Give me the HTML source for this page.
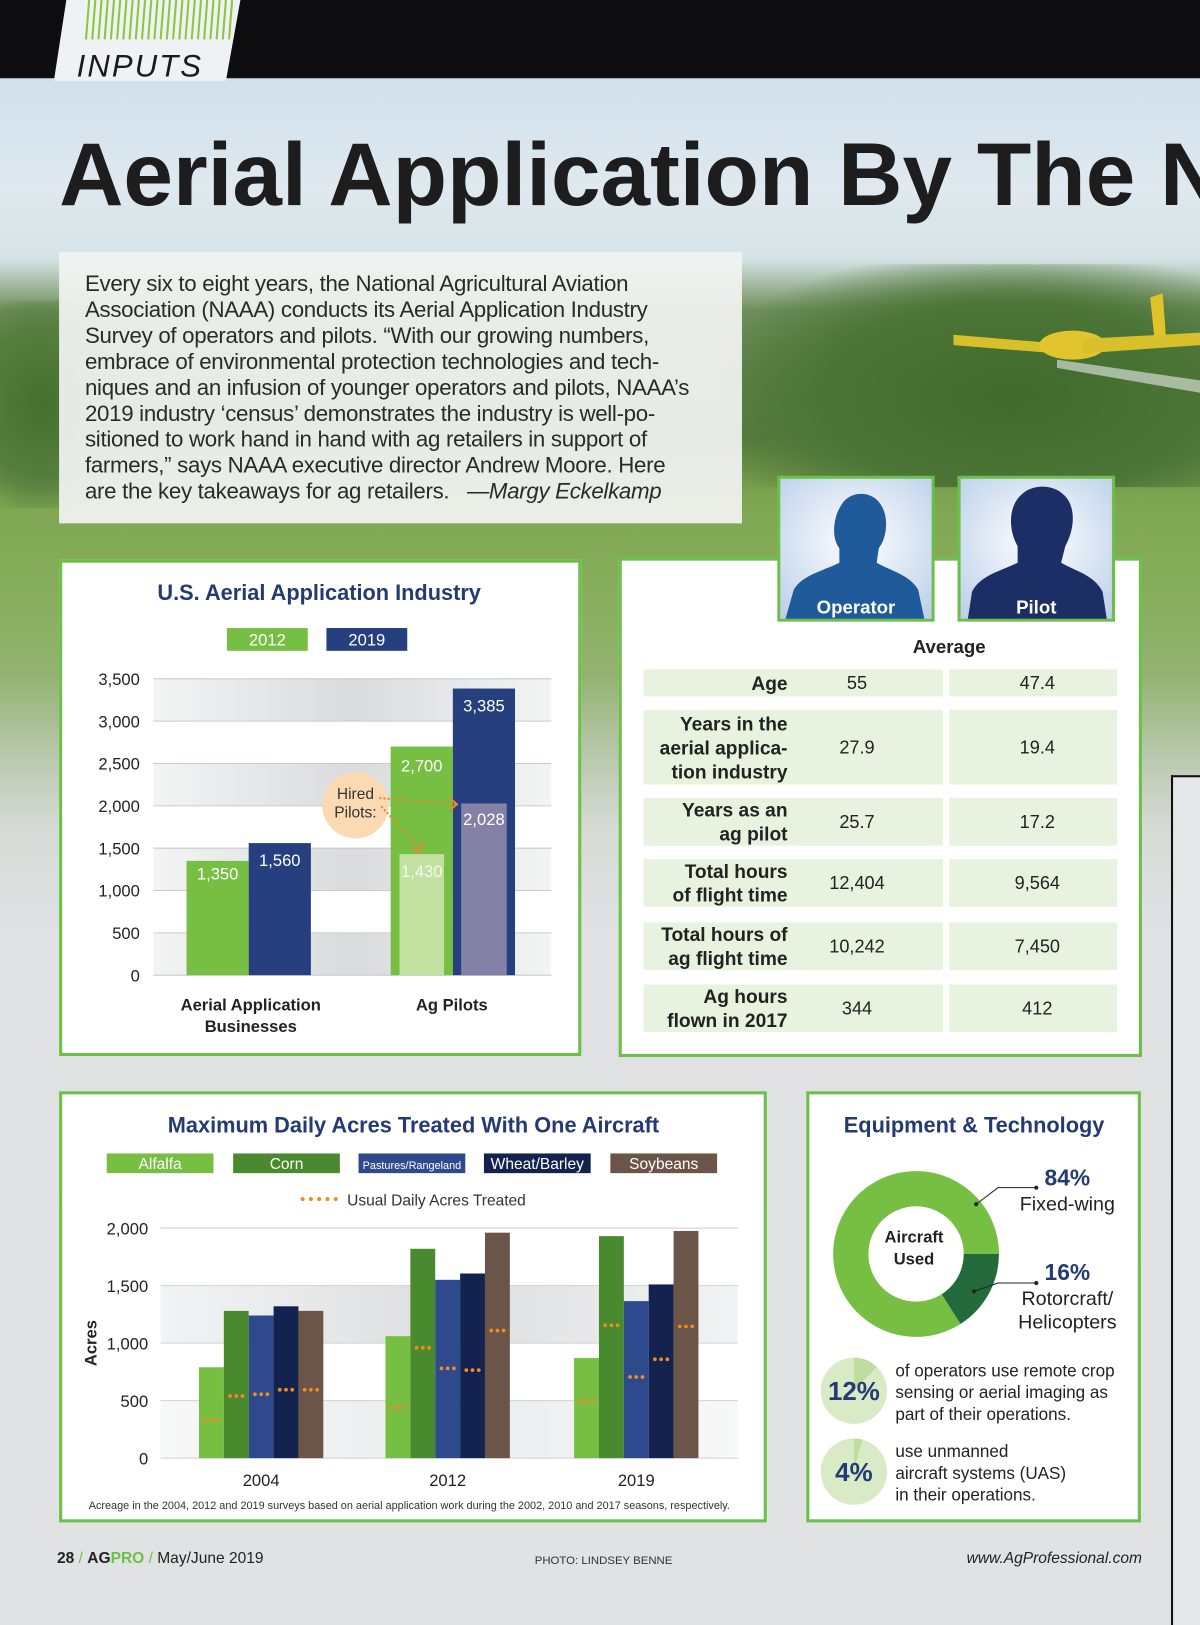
<!DOCTYPE html>
<html><head><meta charset="utf-8">
<style>
html,body{margin:0;padding:0;}
body{width:1200px;height:1625px;overflow:hidden;background:#e0e2e4;font-family:"Liberation Sans",sans-serif;}
#wrap{position:absolute;left:0;top:0;width:1158px;height:1568px;transform-origin:0 0;transform:scale(1.03627,1.03635);overflow:hidden;
background:linear-gradient(180deg,#0e0e10 0,#0e0e10 75px,#cfe0ec 76px,#dfe9ef 180px,#d6e3e6 250px,#6f8f5a 300px,#587d3e 420px,#7ea550 480px,#86ad5a 560px,#93b270 650px,#b9c8ad 730px,#d6dbd6 800px,#dfe1e3 900px,#e0e2e4 100%);}
.abs{position:absolute;}
.box{position:absolute;background:#fff;border:3px solid #6cc04a;box-sizing:border-box;}
.box svg{position:absolute;left:-3px;top:-3px;}
</style></head><body>
<div id="wrap">
  <div class="abs" style="left:700px;top:255px;width:460px;height:215px;background:radial-gradient(ellipse at 60% 60%,#3f6a2c 0,#4d7538 50%,rgba(90,125,70,0) 80%);"></div>
  <div class="abs" style="left:-40px;top:290px;width:160px;height:200px;background:radial-gradient(ellipse at 50% 50%,#46702f 0,#557d3e 50%,rgba(90,125,70,0) 80%);"></div>
  <svg class="abs" style="left:920px;top:275px" width="238" height="110">
    <path d="M0 48 L95 56 L100 66 L0 58 Z" fill="#d8c02a"/>
    <ellipse cx="115" cy="58" rx="32" ry="14" fill="#e2c52c"/>
    <path d="M125 52 L238 46 L238 58 L125 66 Z" fill="#d8c02a"/>
    <path d="M190 12 L202 8 L205 48 L194 52 Z" fill="#e0c22a"/>
    <path d="M100 72 L238 92 L238 104 L100 80 Z" fill="#e8ecea" opacity="0.6"/>
  </svg>
  <svg class="abs" style="left:50px;top:0" width="190" height="78">
    <polygon points="14,0 182,0 168,78 2,78" fill="#eef2f4"/>
    <g stroke="#8cc63f" stroke-width="2">
      <line x1="36" y1="0" x2="33" y2="38"/><line x1="42" y1="0" x2="39" y2="38"/><line x1="48" y1="0" x2="45" y2="38"/><line x1="54" y1="0" x2="51" y2="38"/><line x1="60" y1="0" x2="57" y2="38"/><line x1="66" y1="0" x2="63" y2="38"/><line x1="72" y1="0" x2="69" y2="38"/><line x1="78" y1="0" x2="75" y2="38"/><line x1="84" y1="0" x2="81" y2="38"/><line x1="90" y1="0" x2="87" y2="38"/><line x1="96" y1="0" x2="93" y2="38"/><line x1="102" y1="0" x2="99" y2="38"/><line x1="108" y1="0" x2="105" y2="38"/><line x1="114" y1="0" x2="111" y2="38"/><line x1="120" y1="0" x2="117" y2="38"/><line x1="126" y1="0" x2="123" y2="38"/><line x1="132" y1="0" x2="129" y2="38"/><line x1="138" y1="0" x2="135" y2="38"/><line x1="144" y1="0" x2="141" y2="38"/><line x1="150" y1="0" x2="147" y2="38"/><line x1="156" y1="0" x2="153" y2="38"/><line x1="162" y1="0" x2="159" y2="38"/><line x1="168" y1="0" x2="165" y2="38"/><line x1="174" y1="0" x2="171" y2="38"/>
    </g>
    <text x="24" y="74" font-family="Liberation Sans" font-style="italic" font-size="30" fill="#1a1a1a" letter-spacing="2">INPUTS</text>
  </svg>
  <div class="abs" style="left:57px;top:120px;font-weight:bold;font-size:86px;color:#1d1d1d;white-space:nowrap;letter-spacing:0px;">Aerial Application By The N</div>

  <div class="abs" style="left:57px;top:243px;width:659px;height:262px;background:rgba(242,243,242,0.93);"></div>
  <div class="abs" style="left:82px;top:262px;font-size:21.5px;line-height:25px;color:#2a2a2a;white-space:pre;letter-spacing:-0.3px;">Every six to eight years, the National Agricultural Aviation
Association (NAAA) conducts its Aerial Application Industry
Survey of operators and pilots. “With our growing numbers,
embrace of environmental protection technologies and tech-
niques and an infusion of younger operators and pilots, NAAA’s
2019 industry ‘census’ demonstrates the industry is well-po-
sitioned to work hand in hand with ag retailers in support of
farmers,” says NAAA executive director Andrew Moore. Here
are the key takeaways for ag retailers.   <i>—Margy Eckelkamp</i></div>

  <div class="abs" style="left:1130px;top:748px;width:40px;height:830px;background:#e6e7e8;border-left:2px solid #111;border-top:2px solid #111;"></div>

  <div class="box" style="left:57px;top:540px;width:504px;height:479px;">
    <svg id="c1" width="504" height="479" viewBox="57 540 504 479"></svg>
  </div>

  <div class="box" style="left:597px;top:538px;width:505px;height:482px;"></div>
  <svg class="abs" style="left:750px;top:459px" width="152" height="141">
    <defs><radialGradient id="bgA" cx="50%" cy="45%" r="70%"><stop offset="0" stop-color="#ffffff"/><stop offset="1" stop-color="#bcd0ea"/></radialGradient></defs>
    <rect x="1.5" y="1.5" width="149" height="138" fill="url(#bgA)" stroke="#6cc04a" stroke-width="3"/>
    <path d="M60 70 C52 60 54 40 62 28 C70 14 92 14 100 28 C108 40 106 60 98 70 L96 84 C110 92 128 96 136 110 L142 138 L8 138 L16 110 C24 96 44 92 60 84 Z" fill="#1f5a9a"/>
    <text x="76" y="133" text-anchor="middle" font-weight="bold" font-size="18" fill="#fff">Operator</text>
  </svg>
  <svg class="abs" style="left:924px;top:459px" width="152" height="141">
    <rect x="1.5" y="1.5" width="149" height="138" fill="url(#bgA)" stroke="#6cc04a" stroke-width="3"/>
    <path d="M58 68 C48 50 50 28 62 18 C72 8 92 8 102 18 C114 28 114 50 104 68 L100 84 C114 92 132 96 140 112 L144 138 L10 138 L14 112 C22 96 42 92 58 84 Z" fill="#1b2f66"/>
    <text x="76" y="133" text-anchor="middle" font-weight="bold" font-size="18" fill="#fff">Pilot</text>
  </svg>
  <div class="abs" style="left:860px;top:614px;width:112px;text-align:center;font-weight:bold;font-size:18px;color:#222;">Average</div>
  <div id="tbl"></div>

  <div class="box" style="left:57px;top:1053px;width:683px;height:416px;">
    <svg id="c3" width="683" height="416" viewBox="57 1053 683 416"></svg>
  </div>

  <div class="box" style="left:778px;top:1053px;width:323px;height:416px;">
    <svg width="323" height="416" viewBox="778 1053 323 416">
      <text x="940" y="1093" text-anchor="middle" font-weight="bold" font-size="21" fill="#243a73">Equipment &amp; Technology</text>
      <g id="donut"></g>
      <circle cx="884" cy="1210" r="46" fill="#fff"/>
      <text x="882" y="1199" text-anchor="middle" font-weight="bold" font-size="16" fill="#222">Aircraft</text>
      <text x="882" y="1220" text-anchor="middle" font-weight="bold" font-size="16" fill="#222">Used</text>
      <polyline points="942,1162 963,1146 1000,1146" fill="none" stroke="#222" stroke-width="1"/><circle cx="942" cy="1162" r="2" fill="#222"/><circle cx="1000" cy="1146" r="2" fill="#222"/>
      <polyline points="940,1246 963,1238 1000,1238" fill="none" stroke="#222" stroke-width="1"/><circle cx="940" cy="1246" r="2" fill="#222"/><circle cx="1000" cy="1238" r="2" fill="#222"/>
      <text x="1030" y="1144" text-anchor="middle" font-weight="bold" font-size="22" fill="#243a73">84%</text>
      <text x="1030" y="1168" text-anchor="middle" font-size="19" fill="#222">Fixed-wing</text>
      <text x="1030" y="1235" text-anchor="middle" font-weight="bold" font-size="22" fill="#243a73">16%</text>
      <text x="1030" y="1259" text-anchor="middle" font-size="19" fill="#222">Rotorcraft/</text>
      <text x="1030" y="1282" text-anchor="middle" font-size="19" fill="#222">Helicopters</text>
      <circle cx="824" cy="1342" r="32" fill="#d8ebc6"/>
      <path d="M824 1342 L824 1310 A32 32 0 0 1 846 1319 Z" fill="#bfdd9f"/>
      <text x="824" y="1351" text-anchor="middle" font-weight="bold" font-size="25" fill="#243a73">12%</text>
      <circle cx="824" cy="1420" r="32" fill="#d8ebc6"/>
      <path d="M824 1420 L824 1388 A32 32 0 0 1 832 1389 Z" fill="#bfdd9f"/>
      <text x="824" y="1429" text-anchor="middle" font-weight="bold" font-size="25" fill="#243a73">4%</text>
      <g font-size="16.5" fill="#222">
        <text x="864" y="1328">of operators use remote crop</text>
        <text x="864" y="1349">sensing or aerial imaging as</text>
        <text x="864" y="1370">part of their operations.</text>
        <text x="864" y="1406">use unmanned</text>
        <text x="864" y="1427">aircraft systems (UAS)</text>
        <text x="864" y="1448">in their operations.</text>
      </g>
    </svg>
  </div>

  <div class="abs" style="left:55px;top:1495px;font-size:15px;color:#222;"><b>28</b> <span style="color:#6cc04a">/</span> <b>AG</b><b style="color:#6cc04a">PRO</b> <span style="color:#6cc04a">/</span> May/June 2019</div>
  <div class="abs" style="left:516px;top:1500px;font-size:11px;color:#333;">PHOTO: LINDSEY BENNE</div>
  <div class="abs" style="left:880px;top:1495px;width:222px;text-align:right;font-size:15px;font-style:italic;color:#222;">www.AgProfessional.com</div>
</div>

<script>
const c1Categories = ["Aerial Application|Businesses", "Ag Pilots"];
const c1Series2012 = [1350, 2700];
const c1Series2019 = [1560, 3385];
const c1Hired2012 = [null, 1430];
const c1Hired2019 = [null, 2028];
const c1Ticks = [0, 500, 1000, 1500, 2000, 2500, 3000, 3500];
const c1TickLabels = ["0", "500", "1,000", "1,500", "2,000", "2,500", "3,000", "3,500"];

const c3Years = ["2004", "2012", "2019"];
const c3Crops = ["Alfalfa", "Corn", "Pastures/Rangeland", "Wheat/Barley", "Soybeans"];
const c3Alfalfa = [790, 1060, 870];
const c3Corn = [1280, 1820, 1930];
const c3Pastures = [1240, 1550, 1365];
const c3Wheat = [1320, 1605, 1510];
const c3Soybeans = [1280, 1960, 1975];
const c3UsualAlfalfa = [330, 440, 495];
const c3UsualCorn = [540, 960, 1155];
const c3UsualPastures = [555, 780, 705];
const c3UsualWheat = [595, 765, 860];
const c3UsualSoybeans = [595, 1110, 1145];
const c3Ticks = [0, 500, 1000, 1500, 2000];
const c3TickLabels = ["0", "500", "1,000", "1,500", "2,000"];

const donutLabels = ["Rotorcraft/Helicopters", "Fixed-wing"];
const donutValues = [16, 84];

const tblLabels = [["Age"], ["Years in the", "aerial applica-", "tion industry"], ["Years as an", "ag pilot"], ["Total hours", "of flight time"], ["Total hours of", "ag flight time"], ["Ag hours", "flown in 2017"]];
const tblOperator = ["55", "27.9", "25.7", "12,404", "10,242", "344"];
const tblPilot = ["47.4", "19.4", "17.2", "9,564", "7,450", "412"];

const NS = "http://www.w3.org/2000/svg";
function mk(parent, tag, attrs, txt) {
  const e = document.createElementNS(NS, tag);
  for (const k in attrs) e.setAttribute(k, attrs[k]);
  if (txt !== undefined) e.textContent = txt;
  parent.appendChild(e);
  return e;
}

(function () {
  const s = document.getElementById("c1");
  const defs = mk(s, "defs", {});
  const g = mk(defs, "linearGradient", { id: "band1", x1: "0", x2: "1", y1: "0", y2: "0" });
  mk(g, "stop", { offset: "0", "stop-color": "#f3f4f4" });
  mk(g, "stop", { offset: "0.5", "stop-color": "#d9dbdd" });
  mk(g, "stop", { offset: "1", "stop-color": "#f3f4f4" });
  const x0 = 148, x1 = 532, yBase = 941, yTop = 655, vMax = 3500;
  const y = v => yBase - (v / vMax) * (yBase - yTop);
  const title = mk(s, "text", { x: 308, y: 579, "text-anchor": "middle", "font-weight": "bold", "font-size": 21, fill: "#243a73" }, "U.S. Aerial Application Industry");
  
  
  const l1 = mk(s, "rect", { x: 219, y: 606, width: 78, height: 22, fill: "#76bf43" });
  
  
  mk(s, "text", { x: 258, y: 623, "text-anchor": "middle", "font-size": 16, fill: "#fff" }, "2012");
  const l2 = mk(s, "rect", { x: 315, y: 606, width: 78, height: 22, fill: "#263f7e" });
  
  
  mk(s, "text", { x: 354, y: 623, "text-anchor": "middle", "font-size": 16, fill: "#fff" }, "2019");
  for (let i = 0; i < c1Ticks.length - 1; i++) {
    if (i % 2 === 0) {
      const b = mk(s, "rect", { x: x0, y: y(c1Ticks[i + 1]), width: x1 - x0, height: y(c1Ticks[i]) - y(c1Ticks[i + 1]), fill: "url(#band1)" });
      
      
    }
  }
  c1Ticks.forEach((t, i) => {
    const gl = mk(s, "line", { x1: x0, x2: x1, y1: y(t), y2: y(t), stroke: "#c8cacc", "stroke-width": 1 });
    
    
    const tl = mk(s, "text", { x: 135, y: y(t) + 6, "text-anchor": "end", "font-size": 16, fill: "#222" }, c1TickLabels[i]);
    
    
  });
  const centers = [240, 437], bw = 60;
  c1Categories.forEach((cat, i) => {
    const c = centers[i];
    const b1 = mk(s, "rect", { x: c - bw, y: y(c1Series2012[i]), width: bw, height: yBase - y(c1Series2012[i]), fill: "#76bf43" });
    
    
    const b2 = mk(s, "rect", { x: c, y: y(c1Series2019[i]), width: bw, height: yBase - y(c1Series2019[i]), fill: "#263f7e" });
    
    
    const lab1 = i === 0 ? 18 : 24;
    mk(s, "text", { x: c - bw / 2, y: y(c1Series2012[i]) + lab1, "text-anchor": "middle", "font-size": 16, fill: "#fff" }, c1Series2012[i].toLocaleString("en-US"));
    mk(s, "text", { x: c + bw / 2, y: y(c1Series2019[i]) + 22, "text-anchor": "middle", "font-size": 16, fill: "#fff" }, c1Series2019[i].toLocaleString("en-US"));
    if (c1Hired2012[i] != null) {
      const h1 = mk(s, "rect", { x: c - bw / 2 - 21.5, y: y(c1Hired2012[i]), width: 43, height: yBase - y(c1Hired2012[i]), fill: "#c2e0a0" });
      
      
      mk(s, "text", { x: c - bw / 2, y: y(c1Hired2012[i]) + 22, "text-anchor": "middle", "font-size": 16, fill: "#f4f8ee" }, c1Hired2012[i].toLocaleString("en-US"));
    }
    if (c1Hired2019[i] != null) {
      const h2 = mk(s, "rect", { x: c + bw / 2 - 22, y: y(c1Hired2019[i]), width: 44, height: yBase - y(c1Hired2019[i]), fill: "#8481a6" });
      
      
      mk(s, "text", { x: c + bw / 2, y: y(c1Hired2019[i]) + 21, "text-anchor": "middle", "font-size": 16, fill: "#fff" }, c1Hired2019[i].toLocaleString("en-US"));
    }
    const parts = cat.split("|");
    parts.forEach((p, k) => {
      const cl = mk(s, "text", { x: i === 0 ? 242 : 436, y: 975 + k * 21, "text-anchor": "middle", "font-weight": "bold", "font-size": 16, fill: "#222" }, p);
      
      
    });
  });
  const ci = mk(s, "circle", { cx: 343, cy: 777, r: 32, fill: "#fbdab3" });
  
  
  mk(s, "text", { x: 343, y: 771, "text-anchor": "middle", "font-size": 15, fill: "#333" }, "Hired");
  mk(s, "text", { x: 343, y: 789, "text-anchor": "middle", "font-size": 15, fill: "#333" }, "Pilots:");
  mk(s, "path", { d: "M366 770 L440 776", stroke: "#e8892a", "stroke-width": 2, "stroke-dasharray": "2 2", fill: "none" });
  mk(s, "path", { d: "M434 770 L441 776 L434 782", stroke: "#e8892a", "stroke-width": 2, fill: "none" });
  mk(s, "path", { d: "M368 778 L404 818", stroke: "#e8892a", "stroke-width": 2, "stroke-dasharray": "2 2", fill: "none" });
  mk(s, "path", { d: "M397 818 L405 822 L408 813", stroke: "#e8892a", "stroke-width": 2, fill: "none" });
})();

(function () {
  const host = document.getElementById("tbl");
  const rowsY = [[646, 26], [685, 72], [770, 46], [829, 46], [890, 46], [950, 46]];
  tblLabels.forEach((lines, i) => {
    const [top, h] = rowsY[i];
    const r1 = document.createElement("div");
    r1.className = "abs";
    
    
    r1.style.cssText = `left:621px;top:${top}px;width:289px;height:${h}px;background:#e8f3df;`;
    host.appendChild(r1);
    const r2 = document.createElement("div");
    r2.className = "abs";
    
    
    r2.style.cssText = `left:916px;top:${top}px;width:162px;height:${h}px;background:#e8f3df;`;
    host.appendChild(r2);
    const lab = document.createElement("div");
    lab.className = "abs";
    
    
    lab.style.cssText = `left:611px;top:${top + h / 2 - lines.length * 11.5}px;width:149px;text-align:right;font-weight:bold;font-size:18.5px;line-height:23px;color:#222;`;
    lab.innerHTML = lines.join("<br>");
    host.appendChild(lab);
    const v1 = document.createElement("div");
    v1.className = "abs";
    
    
    v1.style.cssText = `left:767px;top:${top + h / 2 - 11}px;width:120px;text-align:center;font-size:17.5px;line-height:22px;color:#222;`;
    v1.textContent = tblOperator[i];
    host.appendChild(v1);
    const v2 = document.createElement("div");
    v2.className = "abs";
    
    
    v2.style.cssText = `left:941px;top:${top + h / 2 - 11}px;width:120px;text-align:center;font-size:17.5px;line-height:22px;color:#222;`;
    v2.textContent = tblPilot[i];
    host.appendChild(v2);
  });
})();

(function () {
  const s = document.getElementById("c3");
  const defs = mk(s, "defs", {});
  const g = mk(defs, "linearGradient", { id: "band3", x1: "0", x2: "1", y1: "0", y2: "0" });
  mk(g, "stop", { offset: "0", "stop-color": "#f2f3f4" });
  mk(g, "stop", { offset: "0.5", "stop-color": "#dcdee0" });
  mk(g, "stop", { offset: "1", "stop-color": "#f2f3f4" });
  const x0 = 155, x1 = 712, yBase = 1407, yTop = 1185, vMax = 2000;
  const y = v => yBase - (v / vMax) * (yBase - yTop);
  const t = mk(s, "text", { x: 399, y: 1093, "text-anchor": "middle", "font-weight": "bold", "font-size": 21, fill: "#243a73" }, "Maximum Daily Acres Treated With One Aircraft");
  
  
  const colors = ["#76bf43", "#4a8a2e", "#2e4a8c", "#14224f", "#6b5548"];
  const legX = [103, 225, 346, 467, 589];
  c3Crops.forEach((c, i) => {
    const r = mk(s, "rect", { x: legX[i], y: 1113, width: 103, height: 19, fill: colors[i] });
    
    
    mk(s, "text", { x: legX[i] + 51.5, y: 1128, "text-anchor": "middle", "font-size": i === 2 ? 10.5 : 15, fill: "#fff" }, c);
  });
  for (let k = 0; k < 5; k++) mk(s, "circle", { cx: 292 + k * 8, cy: 1157, r: 2, fill: "#f28c1e" });
  mk(s, "text", { x: 335, y: 1163, "font-size": 15, fill: "#333" }, "Usual Daily Acres Treated");
  for (let i = 0; i < c3Ticks.length - 1; i++) {
    if (i % 2 === 0 || i === 2) {
      const b = mk(s, "rect", { x: x0, y: y(c3Ticks[i + 1]), width: x1 - x0, height: y(c3Ticks[i]) - y(c3Ticks[i + 1]), fill: "url(#band3)", opacity: i === 0 ? 0.6 : 1 });
      
      
    }
  }
  c3Ticks.forEach((tk, i) => {
    const gl = mk(s, "line", { x1: x0, x2: x1, y1: y(tk), y2: y(tk), stroke: "#cfd1d3", "stroke-width": 1 });
    
    
    const tl = mk(s, "text", { x: 143, y: y(tk) + 6, "text-anchor": "end", "font-size": 16, fill: "#222" }, c3TickLabels[i]);
    
    
  });
  const ax = mk(s, "text", { x: 0, y: 0, "text-anchor": "middle", "font-weight": "bold", "font-size": 16, fill: "#222", transform: "translate(93 1296) rotate(-90)" }, "Acres");
  
  
  const series = [c3Alfalfa, c3Corn, c3Pastures, c3Wheat, c3Soybeans];
  const usual = [c3UsualAlfalfa, c3UsualCorn, c3UsualPastures, c3UsualWheat, c3UsualSoybeans];
  const centers = [252, 432, 614], bw = 24;
  c3Years.forEach((yr, gi) => {
    const start = centers[gi] - 2.5 * bw;
    series.forEach((ser, si) => {
      const bx = start + si * bw;
      const r = mk(s, "rect", { x: bx, y: y(ser[gi]), width: bw, height: yBase - y(ser[gi]), fill: colors[si] });
      
      
      for (let k = 0; k < 3; k++) {
        const d = mk(s, "circle", { cx: bx + 6 + k * 6, cy: y(usual[si][gi]), r: 1.8, fill: "#f28c1e" });
        
        
      }
    });
    const xl = mk(s, "text", { x: centers[gi], y: 1434, "text-anchor": "middle", "font-size": 16, fill: "#222" }, yr);
    
    
  });
  const fn = mk(s, "text", { x: 395, y: 1456, "text-anchor": "middle", "font-size": 10.5, fill: "#333" }, "Acreage in the 2004, 2012 and 2019 surveys based on aerial application work during the 2002, 2010 and 2017 seasons, respectively.");
  
  
})();

(function () {
  const g = document.getElementById("donut");
  const cx = 884, cy = 1210, R = 80;
  const cols = ["#236b3a", "#76bf43"];
  const total = donutValues.reduce((a, b) => a + b, 0);
  // angles clockwise from 12 o'clock; first slice starts at 3 o'clock
  let ang = Math.PI / 2;
  donutValues.forEach((v, i) => {
    const a0 = ang, a1 = ang + (v / total) * 2 * Math.PI;
    const xA = cx + R * Math.sin(a0), yA = cy - R * Math.cos(a0);
    const xB = cx + R * Math.sin(a1), yB = cy - R * Math.cos(a1);
    const large = (a1 - a0) > Math.PI ? 1 : 0;
    const p = mk(g, "path", { d: `M${cx} ${cy} L${xA} ${yA} A${R} ${R} 0 ${large} 1 ${xB} ${yB} Z`, fill: cols[i] });
    
    
    ang = a1;
  });
})();
</script>
</body></html>
